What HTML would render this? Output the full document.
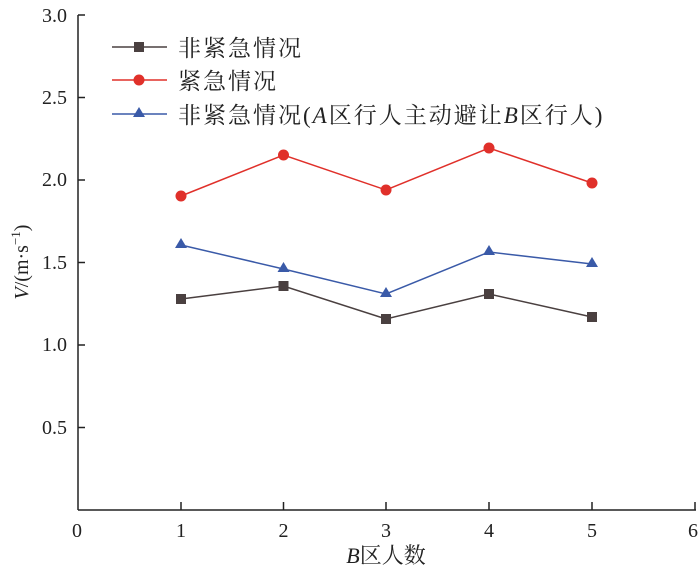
<!DOCTYPE html><html><head><meta charset="utf-8"><style>body{margin:0;background:#fff}svg{display:block}text{font-family:"Liberation Serif","Noto Serif CJK SC",serif;fill:#222}</style></head><body>
<svg width="700" height="572" viewBox="0 0 700 572">
<g stroke="#222" stroke-width="1.5" fill="none">
<line x1="78" y1="15" x2="78" y2="510"/><line x1="78" y1="510" x2="696" y2="510"/>
<path d="M181 510v-8M283.5 510v-8M386 510v-8M489 510v-8M592 510v-8M695 510v-8"/>
<path d="M78 427.5h7M78 345h7M78 262.5h7M78 180h7M78 97.5h7M78 15h7"/>
</g>
<g font-size="20" text-anchor="end">
<text x="67" y="434">0.5</text><text x="67" y="351">1.0</text><text x="67" y="269">1.5</text><text x="67" y="186">2.0</text><text x="67" y="104">2.5</text><text x="67" y="22">3.0</text>
</g>
<g font-size="20" text-anchor="middle">
<text x="77" y="537">0</text><text x="181" y="537">1</text><text x="283.5" y="537">2</text><text x="386" y="537">3</text><text x="489" y="537">4</text><text x="592" y="537">5</text><text x="693" y="537">6</text>
<text x="386" y="563" font-size="22"><tspan font-style="italic">B</tspan>区人数</text>
</g>
<text transform="translate(28,262) rotate(-90)" font-size="20" text-anchor="middle"><tspan font-style="italic">V</tspan>/(m·s<tspan font-size="13" dy="-8">−1</tspan><tspan dy="8">)</tspan></text>
<polyline fill="none" stroke="#4a4040" stroke-width="1.5" points="181,299 283.5,286 386,319 489,294 592,317"/>
<g fill="#4a4040"><rect x="176" y="294" width="10" height="10"/><rect x="278.5" y="281" width="10" height="10"/><rect x="381" y="314" width="10" height="10"/><rect x="484" y="289" width="10" height="10"/><rect x="587" y="312" width="10" height="10"/></g>
<polyline fill="none" stroke="#e0302a" stroke-width="1.5" points="181,196 283.5,155 386,190 489,148 592,183"/>
<g fill="#e0302a"><circle cx="181" cy="196" r="5.5"/><circle cx="283.5" cy="155" r="5.5"/><circle cx="386" cy="190" r="5.5"/><circle cx="489" cy="148" r="5.5"/><circle cx="592" cy="183" r="5.5"/></g>
<polyline fill="none" stroke="#3a5aa8" stroke-width="1.5" points="181,245 283.5,269 386,294 489,252 592,264"/>
<g fill="#3a5aa8"><path d="M181 238l6 10h-12z"/><path d="M283.5 262l6 10h-12z"/><path d="M386 287l6 10h-12z"/><path d="M489 245l6 10h-12z"/><path d="M592 257l6 10h-12z"/></g>
<line x1="112" y1="47" x2="167" y2="47" stroke="#4a4040" stroke-width="1.5"/><rect x="134" y="42" width="10" height="10" fill="#4a4040"/>
<line x1="112" y1="80" x2="167" y2="80" stroke="#e0302a" stroke-width="1.5"/><circle cx="139" cy="80" r="5.5" fill="#e0302a"/>
<line x1="112" y1="114" x2="167" y2="114" stroke="#3a5aa8" stroke-width="1.5"/><path d="M139 107l6 10h-12z" fill="#3a5aa8"/>
<g font-size="23" letter-spacing="2"><text x="178" y="56">非紧急情况</text><text x="178" y="89">紧急情况</text><text x="178" y="123">非紧急情况(<tspan font-style="italic">A</tspan>区行人主动避让<tspan font-style="italic">B</tspan>区行人)</text></g>
</svg></body></html>
